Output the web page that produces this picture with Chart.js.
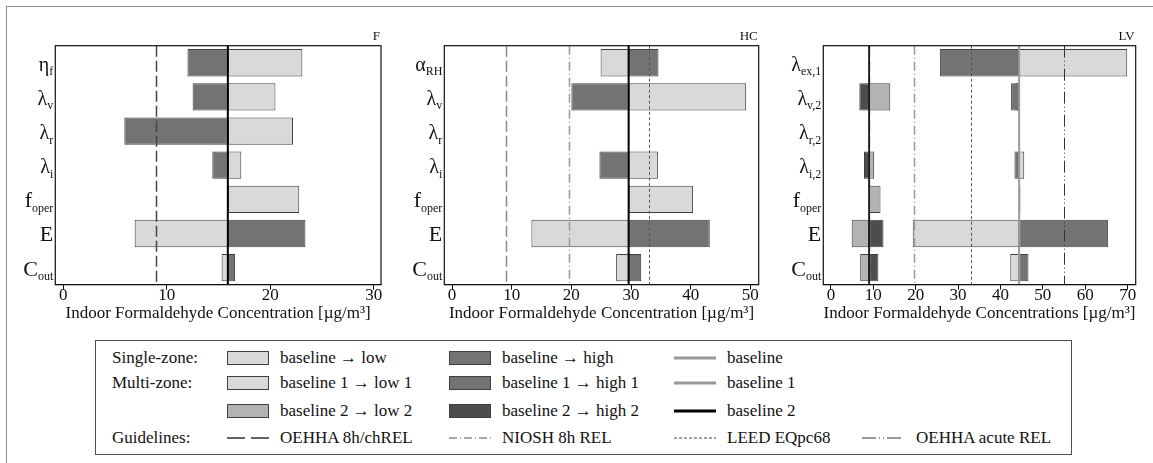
<!DOCTYPE html>
<html>
<head>
<meta charset="utf-8">
<title>Indoor formaldehyde sensitivity</title>
<script src="https://cdn.jsdelivr.net/npm/chart.js@4.4.1/dist/chart.umd.min.js"></script>
<style>
  html, body { margin: 0; padding: 0; background: #fff; }
  body { width: 1153px; height: 463px; position: relative; overflow: hidden;
         font-family: "Liberation Serif", "DejaVu Serif", serif; color: #111; }
  .frame { position: absolute; left: 6px; top: 6px; width: 1200px; height: 500px;
           border-left: 1px solid #8c8c8c; border-top: 1px solid #8c8c8c; }
  canvas { position: absolute; top: 0; }
  #legend { position: absolute; left: 95px; top: 340px; width: 977px; height: 115px;
            border: 1px solid #505050; box-sizing: border-box; }
  .lg { position: absolute; font-size: 17px; line-height: 20px; height: 20px; white-space: nowrap; }
  .sw { position: absolute; width: 42px; height: 14px; box-sizing: border-box; border: 1px solid #404040; }
  .sm { position: absolute; }
</style>
</head>
<body>
<div class="frame"></div>
<canvas id="panel-f"  width="395" height="340" style="left:0px"></canvas>
<canvas id="panel-hc" width="385" height="340" style="left:395px"></canvas>
<canvas id="panel-lv" width="373" height="340" style="left:780px"></canvas>

<div id="legend"></div>
<!-- legend rows -->
<div class="lg" style="left:112px; top:348px">Single-zone:</div>
<div class="lg" style="left:112px; top:373px">Multi-zone:</div>
<div class="lg" style="left:112px; top:428px">Guidelines:</div>

<div class="sw" style="left:227px; top:351px; background:#d9d9d9"></div>
<div class="lg" style="left:280px; top:348px">baseline → low</div>
<div class="sw" style="left:449px; top:351px; background:#737373"></div>
<div class="lg" style="left:502px; top:348px">baseline → high</div>
<svg class="sm" style="left:674px; top:351px" width="42" height="14"><line x1="0" y1="7" x2="42" y2="7" stroke="#999" stroke-width="3"/></svg>
<div class="lg" style="left:727px; top:348px">baseline</div>

<div class="sw" style="left:227px; top:376px; background:#d9d9d9"></div>
<div class="lg" style="left:280px; top:373px">baseline 1 → low 1</div>
<div class="sw" style="left:449px; top:376px; background:#737373"></div>
<div class="lg" style="left:502px; top:373px">baseline 1 → high 1</div>
<svg class="sm" style="left:674px; top:376px" width="42" height="14"><line x1="0" y1="7" x2="42" y2="7" stroke="#999" stroke-width="3"/></svg>
<div class="lg" style="left:727px; top:373px">baseline 1</div>

<div class="sw" style="left:227px; top:404px; background:#b3b3b3"></div>
<div class="lg" style="left:280px; top:401px">baseline 2 → low 2</div>
<div class="sw" style="left:449px; top:404px; background:#4d4d4d"></div>
<div class="lg" style="left:502px; top:401px">baseline 2 → high 2</div>
<svg class="sm" style="left:674px; top:404px" width="42" height="14"><line x1="0" y1="7" x2="42" y2="7" stroke="#000" stroke-width="3"/></svg>
<div class="lg" style="left:727px; top:401px">baseline 2</div>

<svg class="sm" style="left:227px; top:431px" width="43" height="14"><line x1="0" y1="7" x2="43" y2="7" stroke="#333" stroke-width="1.3" stroke-dasharray="18 6"/></svg>
<div class="lg" style="left:280px; top:428px">OEHHA 8h/chREL</div>
<svg class="sm" style="left:449px; top:431px" width="42" height="14"><line x1="0" y1="7" x2="42" y2="7" stroke="#555" stroke-width="1.2" stroke-dasharray="8 3 1 3"/></svg>
<div class="lg" style="left:502px; top:428px">NIOSH 8h REL</div>
<svg class="sm" style="left:674px; top:431px" width="42" height="14"><line x1="0" y1="7" x2="42" y2="7" stroke="#444" stroke-width="1" stroke-dasharray="3 2"/></svg>
<div class="lg" style="left:727px; top:428px">LEED EQpc68</div>
<svg class="sm" style="left:862px; top:431px" width="42" height="14"><line x1="0" y1="7" x2="42" y2="7" stroke="#333" stroke-width="1" stroke-dasharray="14 3 1 3 1 3"/></svg>
<div class="lg" style="left:916px; top:428px">OEHHA acute REL</div>

<script>
(function () {
  'use strict';

  // -- Parameters on the y axis (symbol_subscript) --------------------------
  const F_PARAMS  = ['η_f', 'λ_v', 'λ_r', 'λ_i', 'f_oper', 'E', 'C_out'];
  const HC_PARAMS = ['α_RH', 'λ_v', 'λ_r', 'λ_i', 'f_oper', 'E', 'C_out'];
  const LV_PARAMS = ['λ_ex,1', 'λ_v,2', 'λ_r,2', 'λ_i,2', 'f_oper', 'E', 'C_out'];

  // -- Baseline concentrations [ug/m3] ---------------------------------------
  const F_BASE   = 15.9;
  const HC_BASE  = 29.6;
  const LV_BASE1 = 44.4;
  const LV_BASE2 = 9.0;

  // -- Concentration with each parameter moved to its low / high value -------
  const F_LOW    = [23.1, 20.5, 22.2, 17.2, 22.8, 6.9, 15.3];
  const F_HIGH   = [12.0, 12.5, 5.9, 14.4, null, 23.4, 16.6];
  const HC_LOW   = [24.9, 49.3, null, 34.5, 40.4, 13.3, 27.5];
  const HC_HIGH  = [34.6, 20.0, null, 24.7, null, 43.2, 31.7];
  const LV_LOW1  = [69.9, 43.5, null, 45.6, 44.7, 19.3, 42.3];
  const LV_HIGH1 = [25.7, 42.5, null, 43.3, null, 65.4, 46.6];
  const LV_LOW2  = [null, 14.0, null, 10.2, 11.7, 4.9, 6.9];
  const LV_HIGH2 = [null, 6.7, null, 7.8, null, 12.4, 11.2];

  // -- Exposure guidelines [ug/m3] -------------------------------------------
  const OEHHA_8H    = 9;
  const NIOSH_REL   = 19.6;
  const LEED_EQ     = 33;
  const OEHHA_ACUTE = 55;

  // -- x-axis tick labels ----------------------------------------------------
  const F_TICKS  = [0, 10, 20, 30];
  const HC_TICKS = [0, 10, 20, 30, 40, 50];
  const LV_TICKS = [0, 10, 20, 30, 40, 50, 60, 70];

  const SERIF = '"Liberation Serif", "DejaVu Serif", serif';
  const C_LOW = '#d9d9d9', C_HIGH = '#737373', C_LOW2 = '#b3b3b3', C_HIGH2 = '#4d4d4d';

  // line styles for the guideline verticals
  const GUIDE_STYLE = {
    oehha8h:  { dash: [11, 4], width: 1.5 },
    niosh:    { dash: [9, 3, 1, 3], width: 1.5, color: '#9a9a9a' },
    leed:     { dash: [3, 2.5], width: 1, color: '#555' },
    acute:    { dash: [12, 3, 1, 3, 1, 3], width: 1, color: '#333' }
  };

  function bars(values, base, color) {
    return {
      data: values.map(function (v) { return v === null ? null : [base, v]; }),
      backgroundColor: color,
      borderColor: '#404040',
      borderWidth: 1,
      borderSkipped: false,
      grouped: false,
      barPercentage: 0.8,
      categoryPercentage: 1.0
    };
  }

  // Draws guideline/baseline verticals, the plot frame, panel tag and the
  // parameter labels with subscripts.
  const panelDecor = {
    id: 'panelDecor',
    afterDraw: function (chart) {
      const o = chart.options.plugins.panelDecor;
      const ctx = chart.ctx, a = chart.chartArea;
      const xs = chart.scales.x, ys = chart.scales.y;
      ctx.save();
      ctx.beginPath();
      ctx.rect(a.left, a.top, a.right - a.left, a.bottom - a.top);
      ctx.clip();
      o.guides.forEach(function (g) {
        const st = GUIDE_STYLE[g.kind];
        const px = Math.round(xs.getPixelForValue(g.value)) + 0.5;
        ctx.beginPath();
        ctx.setLineDash(st.dash);
        ctx.lineWidth = st.width;
        ctx.strokeStyle = g.color || st.color;
        ctx.moveTo(px, a.top);
        ctx.lineTo(px, a.bottom);
        ctx.stroke();
      });
      ctx.setLineDash([]);
      o.baselines.forEach(function (b) {
        const px = xs.getPixelForValue(b.value);
        ctx.beginPath();
        ctx.lineWidth = b.width;
        ctx.strokeStyle = b.color;
        ctx.moveTo(px, a.top);
        ctx.lineTo(px, a.bottom);
        ctx.stroke();
      });
      ctx.restore();

      ctx.save();
      ctx.strokeStyle = '#111';
      ctx.lineWidth = 1.2;
      ctx.strokeRect(a.left, a.top, a.right - a.left, a.bottom - a.top);

      ctx.fillStyle = '#111';
      ctx.font = '13px ' + SERIF;
      ctx.textAlign = 'right';
      ctx.textBaseline = 'alphabetic';
      ctx.fillText(o.tag, a.right - 1, a.top - 6);

      chart.data.labels.forEach(function (lab, i) {
        const parts = lab.split('_');
        const sym = parts[0], sub = parts[1] || '';
        const cy = ys.getPixelForValue(i);
        const xr = a.left - 2;
        ctx.textAlign = 'right';
        ctx.font = '12px ' + SERIF;
        const subW = sub ? ctx.measureText(sub).width : 0;
        if (sub) ctx.fillText(sub, xr, cy + 12.5);
        ctx.font = (/[α-ω]/.test(sym) ? '20px ' : '22px ') + SERIF;
        ctx.fillText(sym, xr - subW, cy + 8);
      });
      ctx.restore();
    }
  };

  function makePanel(id, cfg) {
    return new Chart(document.getElementById(id), {
      type: 'bar',
      data: { labels: cfg.params, datasets: cfg.datasets },
      plugins: [panelDecor],
      options: {
        indexAxis: 'y',
        responsive: false,
        animation: false,
        devicePixelRatio: 1,
        layout: { padding: { left: cfg.padLeft, right: cfg.padRight, top: 45.7, bottom: 9.3 } },
        plugins: {
          legend: { display: false },
          tooltip: { enabled: false },
          panelDecor: { tag: cfg.tag, guides: cfg.guides, baselines: cfg.baselines }
        },
        scales: {
          y: { display: false, offset: true },
          x: {
            type: 'linear',
            min: cfg.min,
            max: cfg.max,
            afterBuildTicks: function (s) { s.ticks = cfg.ticks.map(function (v) { return { value: v }; }); },
            afterFit: function (s) { s.height = 46; },
            ticks: { font: { family: SERIF, size: 17 }, color: '#111', padding: -4, maxRotation: 0, autoSkip: false },
            grid: { drawOnChartArea: false, drawTicks: true, tickLength: 5, color: '#111' },
            border: { display: true, color: '#111' },
            title: { display: true, text: cfg.title, color: '#111',
                     font: { family: SERIF, size: 17 }, padding: { top: 0, bottom: 7 } }
          }
        }
      }
    });
  }

  function drawAll() {
    makePanel('panel-f', {
      tag: 'F', params: F_PARAMS, ticks: F_TICKS, min: -0.77, max: 30.7,
      padLeft: 55.3, padRight: 14,
      title: 'Indoor Formaldehyde Concentration [µg/m³]',
      datasets: [bars(F_LOW, F_BASE, C_LOW), bars(F_HIGH, F_BASE, C_HIGH)],
      guides: [{ kind: 'oehha8h', value: OEHHA_8H, color: '#444' }],
      baselines: [{ value: F_BASE, color: '#000', width: 2 }]
    });

    makePanel('panel-hc', {
      tag: 'HC', params: HC_PARAMS, ticks: HC_TICKS, min: -1.3, max: 51.4,
      padLeft: 49.3, padRight: 21.3,
      title: 'Indoor Formaldehyde Concentration [µg/m³]',
      datasets: [bars(HC_LOW, HC_BASE, C_LOW), bars(HC_HIGH, HC_BASE, C_HIGH)],
      guides: [
        { kind: 'oehha8h', value: OEHHA_8H, color: '#8a8a8a' },
        { kind: 'niosh', value: NIOSH_REL },
        { kind: 'leed', value: LEED_EQ },
        { kind: 'acute', value: OEHHA_ACUTE }
      ],
      baselines: [{ value: HC_BASE, color: '#000', width: 2 }]
    });

    makePanel('panel-lv', {
      tag: 'LV', params: LV_PARAMS, ticks: LV_TICKS, min: -1.8, max: 71.9,
      padLeft: 43.3, padRight: 17.3,
      title: 'Indoor Formaldehyde Concentrations [µg/m³]',
      datasets: [
        bars(LV_HIGH1, LV_BASE1, C_HIGH), bars(LV_LOW1, LV_BASE1, C_LOW),
        bars(LV_LOW2, LV_BASE2, C_LOW2), bars(LV_HIGH2, LV_BASE2, C_HIGH2)
      ],
      guides: [
        { kind: 'oehha8h', value: OEHHA_8H, color: '#8a8a8a' },
        { kind: 'niosh', value: NIOSH_REL },
        { kind: 'leed', value: LEED_EQ },
        { kind: 'acute', value: OEHHA_ACUTE }
      ],
      baselines: [
        { value: LV_BASE1, color: '#9a9a9a', width: 2 },
        { value: LV_BASE2, color: '#1a1a1a', width: 1.8 }
      ]
    });
  }

  // canvas text needs the serif face loaded before the first paint
  const sizes = ['12px', '13px', '17px', '20px', '22px'];
  Promise.all(sizes.map(function (s) { return document.fonts.load(s + ' "Liberation Serif"', 'Aηλα0'); }))
    .then(drawAll, drawAll);
})();
</script>
</body>
</html>
